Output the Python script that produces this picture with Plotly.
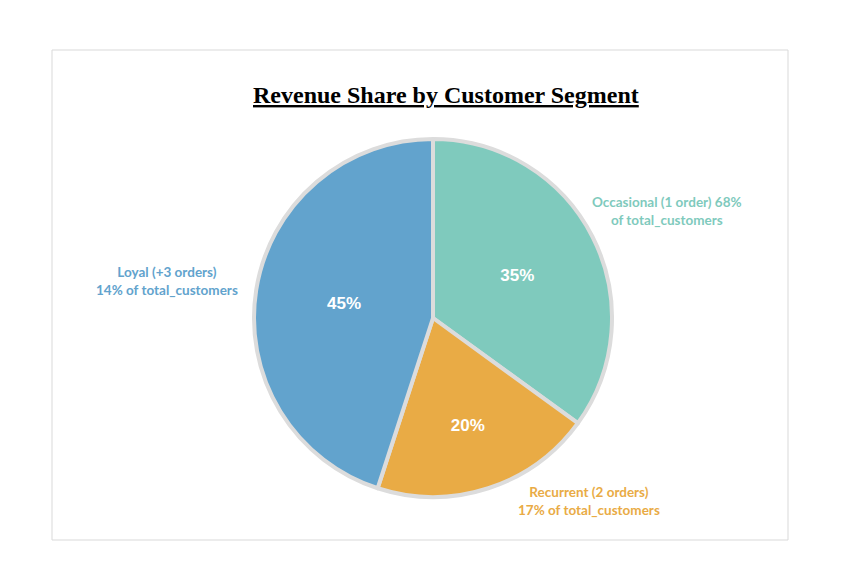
import plotly.graph_objects as go

segments = ["Occasional (1 order)", "Recurrent (2 orders)", "Loyal (+3 orders)"]
revenue_share = [35, 20, 45]
customer_share = [68, 17, 14]
colors = ["#7fcabd", "#e9ab45", "#62a3cd"]
outer_labels = [
    "Occasional (1 order) 68%<br>of total_customers",
    "Recurrent (2 orders)<br>17% of total_customers",
    "Loyal (+3 orders)<br>14% of total_customers",
]

W, H = 850, 586
OFF = 8  # default page body margin
cx, cy, r = 433 - OFF, 318 - OFF, 179

fig = go.Figure(go.Pie(
    labels=segments,
    values=revenue_share,
    sort=False,
    direction="clockwise",
    rotation=0,
    marker=dict(colors=colors, line=dict(color="#dcdcdc", width=4)),
    textinfo="percent",
    texttemplate="%{percent:.0%}",
    textposition="inside",
    insidetextorientation="horizontal",
    textfont=dict(family="Liberation Sans, Arial", size=17, color="white", weight="bold"),
    domain=dict(x=[(cx - r) / W, (cx + r) / W], y=[(H - cy - r) / H, (H - cy + r) / H]),
    showlegend=False,
    hoverinfo="label+percent",
))

label_pos = [(667, 211), (589, 501), (167, 281)]
for txt, col, (px, py) in zip(outer_labels, colors, label_pos):
    fig.add_annotation(
        x=(px - OFF) / W, y=1 - (py - OFF) / H, xref="paper", yref="paper",
        text=txt, showarrow=False, xanchor="center", yanchor="middle",
        font=dict(family="Lato, Open Sans, sans-serif", size=13.5, color=col, weight="bold"),
        align="center",
    )

fig.add_annotation(
    x=(446 - OFF) / W, y=1 - (95 - OFF) / H, xref="paper", yref="paper",
    text="<u>Revenue Share by Customer Segment</u>", showarrow=False,
    xanchor="center", yanchor="middle",
    font=dict(family="Liberation Serif, Times New Roman, serif", size=24, color="black", weight="bold"),
)

fig.add_shape(type="rect", xref="paper", yref="paper",
              x0=(52 - OFF) / W, x1=(788 - OFF) / W, y0=1 - (540 - OFF) / H, y1=1 - (50 - OFF) / H,
              line=dict(color="#d9d9d9", width=1), fillcolor="rgba(0,0,0,0)")

fig.update_layout(
    width=W, height=H,
    margin=dict(l=0, r=0, t=0, b=0),
    paper_bgcolor="white", plot_bgcolor="white",
)

fig.write_html("out.html")
